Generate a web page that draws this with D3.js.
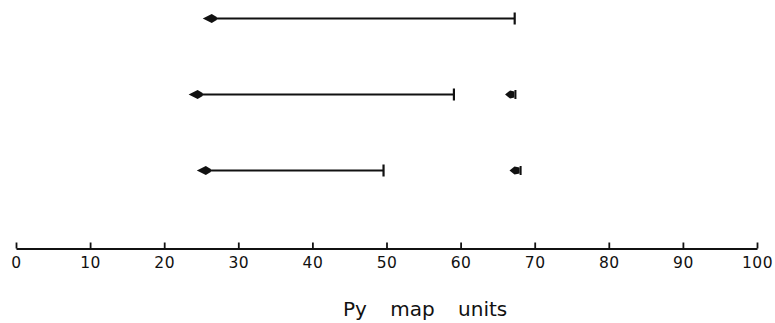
<!DOCTYPE html>
<html><head><meta charset="utf-8">
<script src="https://cdn.jsdelivr.net/npm/d3@7"></script>
<style>
html,body{margin:0;padding:0;background:#fff;}
svg{display:block;}
</style></head>
<body>
<svg id="chart" width="775" height="323"></svg>
<script>
// Data (Py map units)
const rows = ["r1", "r2", "r3"];
const arrowStart = [25.2, 23.3, 24.4];   // arrowhead (left) positions
const arrowEnd = [67.3, 59.1, 49.6];     // end bar positions
const smallStart = [null, 66.0, 66.6];   // small arrow tip
const smallEnd = [null, 67.4, 68.1];     // small arrow bar
const tickValues = [0, 10, 20, 30, 40, 50, 60, 70, 80, 90, 100];
const axisLabel = "Py map units";

const svg = d3.select("#chart");
const x = d3.scaleLinear().domain([0, 100]).range([16, 757]);
const y = d3.scalePoint().domain(rows).range([18.5, 170.5]);
const axisY = 248.5;
const ink = "#111";

// Axis
const axis = d3.axisBottom(x).tickValues(tickValues).tickSizeInner(-6).tickSizeOuter(0).tickPadding(8);
const g = svg.append("g").attr("transform", `translate(0,${axisY})`).call(axis);
g.select(".domain").attr("stroke", ink).attr("stroke-width", 2);
g.selectAll(".tick line").attr("stroke", ink).attr("stroke-width", 1.8);
g.selectAll(".tick text").attr("fill", ink).attr("font-family", "DejaVu Sans, sans-serif")
  .attr("font-size", 15.5).attr("letter-spacing", 0.5);

svg.append("text").attr("x", 343).attr("y", 316)
  .attr("font-family", "DejaVu Sans, sans-serif").attr("font-size", 20)
  .attr("word-spacing", 17).attr("fill", ink).text(axisLabel);

// Main arrows
rows.forEach((r, i) => {
  const yy = y(r);
  const x0 = x(arrowStart[i]), x1 = x(arrowEnd[i]);
  svg.append("line").attr("x1", x0 + 10).attr("x2", x1).attr("y1", yy).attr("y2", yy)
    .attr("stroke", ink).attr("stroke-width", 1.8);
  svg.append("path")
    .attr("d", `M${x0},${yy} L${x0 + 9},${yy - 4.5} L${x0 + 14},${yy - 1.5} L${x0 + 14},${yy + 1.5} L${x0 + 9},${yy + 4.5} Z`)
    .attr("fill", ink);
  svg.append("line").attr("x1", x1).attr("x2", x1).attr("y1", yy - 6).attr("y2", yy + 6)
    .attr("stroke", ink).attr("stroke-width", 2.2);

  if (smallStart[i] != null) {
    const s0 = x(smallStart[i]), s1 = x(smallEnd[i]);
    svg.append("path")
      .attr("d", `M${s0},${yy} L${s0 + 5},${yy - 4} L${s1 - 1},${yy - 3} L${s1 - 1},${yy + 3} L${s0 + 5},${yy + 4} Z`)
      .attr("fill", ink);
    svg.append("line").attr("x1", s1).attr("x2", s1).attr("y1", yy - 4.5).attr("y2", yy + 4.5)
      .attr("stroke", ink).attr("stroke-width", 2);
  }
});
</script>
</body></html>
